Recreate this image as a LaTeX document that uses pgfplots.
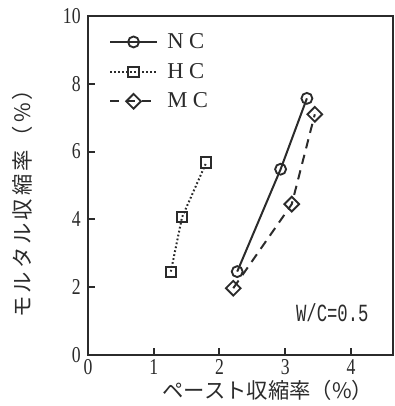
\documentclass[border=0pt]{standalone}
\usepackage{fontspec}
\setmainfont{Liberation Serif}
\newfontfamily\jp{Noto Sans CJK JP}
\newfontfamily\jpwide[LetterSpace=14]{Noto Sans CJK JP}
\newfontfamily\tickfont[FakeStretch=0.78]{Liberation Serif}
\newfontfamily\wcfont[FakeStretch=0.7]{Liberation Mono}
\usepackage{pgfplots}
\pgfplotsset{compat=1.18}
\definecolor{ink}{gray}{0.17}
\begin{document}
\begin{tikzpicture}
\begin{axis}[
  at={(0,0)}, anchor=south west,
  scale only axis, width=228.75pt, height=254.25pt,
  xmin=0, xmax=4.64, ymin=0, ymax=10,
  xtick={0,1,2,3,4}, ytick={0,2,4,6,8,10},
  tick align=inside, major tick length=5pt,
  xtick pos=bottom, ytick pos=left,
  axis line style={line width=1.5pt, color=ink},
  every tick/.style={line width=1.5pt, color=ink},
  tick label style={font=\tickfont\fontsize{17}{17}\selectfont, text=ink},
  yticklabel style={xshift=-2pt},
  /pgf/number format/assume math mode=true,
  xlabel={\jp ペースト収縮率（\%）},
  ylabel={\jpwide モルタル収縮率（\%）},
  xlabel style={at={(axis description cs:0.59,-0.103)}, anchor=center, font=\fontsize{16}{16}\selectfont, text=ink},
  ylabel style={at={(axis description cs:-0.216,0.463)}, anchor=center, font=\fontsize{16}{16}\selectfont, text=ink},
  legend style={draw=none, fill=none, font=\fontsize{17}{17}\selectfont, text=ink,
    at={(axis description cs:0.055,0.965)}, anchor=north west, row sep=5.5pt},
  legend cell align=left,
  legend image code/.code={\draw[mark repeat=2,mark phase=2] plot coordinates {(0cm,0cm) (0.62cm,0cm) (1.24cm,0cm)};},
]
\addplot[color=ink, line width=1.5pt, mark=o, mark size=4.1pt, mark options={fill=white, line width=1.4pt, solid}]
  coordinates {(2.27,2.46) (2.93,5.48) (3.33,7.57)};
\addlegendentry{\hspace{5pt}N\hspace{4pt}C}
\addplot[color=ink, line width=1.5pt, dash pattern=on 1.3pt off 1.7pt, mark=square, mark size=3.8pt, mark options={fill=white, line width=1.5pt, solid}]
  coordinates {(1.26,2.46) (1.43,4.06) (1.80,5.68)};
\addlegendentry{\hspace{5pt}H\hspace{4pt}C}
\addplot[color=ink, line width=1.5pt, dash pattern=on 7pt off 5pt, mark=square, mark size=3.9pt, mark options={fill=white, line width=1.4pt, solid, rotate=45}]
  coordinates {(2.21,1.97) (3.10,4.45) (3.45,7.10)};
\addlegendentry{\hspace{5pt}M\hspace{4pt}C}
\node[anchor=east, font=\wcfont\fontsize{18.5}{18.5}\selectfont, text=ink] at (axis cs:4.34,1.24) {W/C=0.5};
\end{axis}
\pgfresetboundingbox
\path[use as bounding box] (-66pt,-38.25pt) rectangle (230.25pt,266.25pt);
\end{tikzpicture}
\end{document}
